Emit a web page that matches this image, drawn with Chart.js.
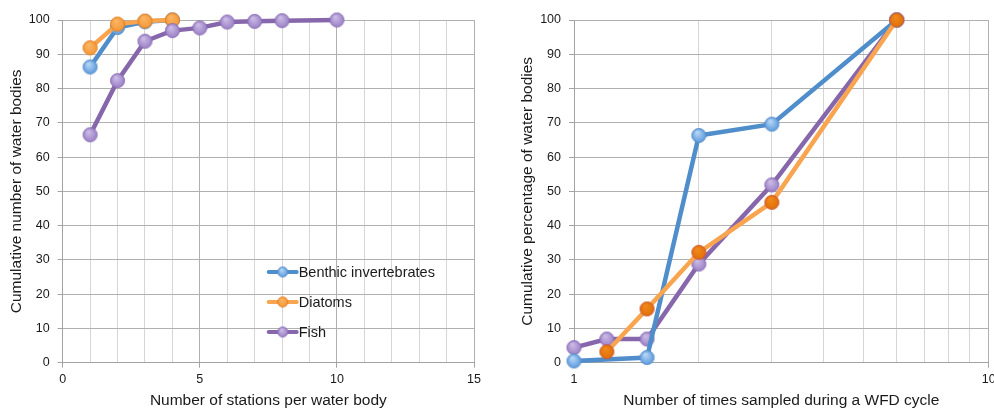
<!DOCTYPE html>
<html>
<head>
<meta charset="utf-8">
<script src="https://cdn.jsdelivr.net/npm/chart.js@4/dist/chart.umd.min.js"></script>
<style>
  html, body { margin: 0; padding: 0; background: #ffffff; }
  #wrap { position: relative; width: 994px; height: 410px; }
  .panel { position: absolute; top: 0; width: 497px; height: 410px; }
  #p1 { left: 0; }
  #p2 { left: 497px; }
</style>
</head>
<body>
<div id="wrap">
  <div class="panel" id="p1"><canvas id="c1" width="497" height="410"></canvas></div>
  <div class="panel" id="p2"><canvas id="c2" width="497" height="410"></canvas></div>
</div>
<script>
// Series labels
const seriesNames = ['Benthic invertebrates', 'Diatoms', 'Fish'];

// Panel 1: stations per water body vs cumulative number
const stationsBenthic = [1, 2, 3, 4];
const cumBenthic      = [86.3, 97.8, 99.5, 100];
const stationsDiatoms = [1, 2, 3, 4];
const cumDiatoms      = [91.9, 98.8, 99.7, 100];
const stationsFish    = [1, 2, 3, 4, 5, 6, 7, 8, 10];
const cumFish         = [66.5, 82.3, 93.8, 96.9, 97.7, 99.4, 99.6, 99.8, 100];

// Panel 2: times sampled during a WFD cycle vs cumulative percentage
const timesBenthic = [1, 1.5, 2, 3, 6];
const pctBenthic   = [0.5, 1.5, 66.3, 69.6, 100];
const timesDiatoms = [1.2, 1.5, 2, 3, 6];
const pctDiatoms   = [3.2, 15.7, 32.2, 46.8, 100];
const timesFish    = [1, 1.2, 1.5, 2, 3, 6];
const pctFish      = [4.4, 6.9, 6.9, 28.8, 51.9, 100];

// Axis ticks and titles
const leftXLabels  = [0, 5, 10, 15];
const rightXTicks  = [1, 2, 3, 4, 5, 6, 7, 8, 9, 10];
const rightXLabels = [1, 10];
const yLabelStep = 10;
const leftXTitle  = 'Number of stations per water body';
const leftYTitle  = 'Cumulative number of water bodies';
const rightXTitle = 'Number of times sampled during a WFD cycle';
const rightYTitle = 'Cumulative percentage of water bodies';

const FONT = "'Liberation Sans', Arial, Helvetica, sans-serif";
const TEXT = '#1a1a1a';
const GRID_MINOR = '#d6d6d6';
const GRID_MAJOR = '#b0b0b0';
const AXIS = '#a3a3a3';

const zip = (xs, ys) => xs.map((x, i) => ({ x: x, y: ys[i] }));

// Glossy round marker drawn onto a small canvas
function marker(r, light, dark, edge) {
  const s = Math.ceil(2 * r + 3);
  const c = document.createElement('canvas');
  c.width = s; c.height = s;
  const g = c.getContext('2d');
  const cx = s / 2, cy = s / 2;
  const grad = g.createRadialGradient(cx - r * 0.25, cy - r * 0.45, r * 0.1, cx, cy, r);
  grad.addColorStop(0, light);
  grad.addColorStop(1, dark);
  g.beginPath();
  g.arc(cx, cy, r, 0, Math.PI * 2);
  g.fillStyle = grad;
  g.fill();
  g.lineWidth = 1;
  g.strokeStyle = edge;
  g.stroke();
  return c;
}

const BLUE_LINE = '#4f8dcb';
const ORANGE_LINE = '#f9a54f';
const PURPLE_LINE = '#8767ab';

const mk = {
  blue:    (r) => marker(r, '#b6d7f7', '#5e9bdc', '#5a8fc9'),
  orangeL: (r) => marker(r, '#fbb565', '#f59a3a', '#e07b1c'),
  orangeD: (r) => marker(r, '#f08a1c', '#e26e08', '#c9573a'),
  purple:  (r) => marker(r, '#cbbbe6', '#9c82c6', '#8a6db5')
};

// Legend drawn inside the plot area of the first panel
const insideLegend = {
  id: 'insideLegend',
  afterDraw(chart, args, opts) {
    const ctx = chart.ctx;
    const area = chart.chartArea;
    const x0 = area.left + opts.dx;
    ctx.save();
    chart.data.datasets.forEach((ds, i) => {
      const y = area.top + opts.dy + i * opts.rowGap;
      ctx.strokeStyle = ds.borderColor;
      ctx.lineWidth = 4;
      ctx.lineCap = 'round';
      ctx.beginPath();
      ctx.moveTo(x0, y);
      ctx.lineTo(x0 + 28, y);
      ctx.stroke();
      const img = opts.markers[i];
      ctx.drawImage(img, x0 + 14 - img.width / 2, y - img.height / 2);
      ctx.fillStyle = TEXT;
      ctx.font = '14.5px ' + FONT;
      ctx.textBaseline = 'middle';
      ctx.textAlign = 'left';
      ctx.fillText(ds.label, x0 + 30, y + 1);
    });
    ctx.restore();
  }
};

function yScale(titleText, titlePad, width) {
  return {
    type: 'linear',
    min: 0, max: 100,
    afterFit: (s) => { s.width = width; },
    border: { color: AXIS, width: 1 },
    grid: {
      color: (c) => (c.tick && c.tick.value % yLabelStep === 0) ? GRID_MAJOR : GRID_MINOR,
      tickColor: AXIS,
      tickLength: 5,
      lineWidth: 1
    },
    ticks: {
      stepSize: 5,
      padding: 8,
      color: TEXT,
      font: { family: FONT, size: 12.5 },
      callback: (v) => (v % yLabelStep === 0 ? String(v) : '')
    },
    title: {
      display: true,
      text: titleText,
      color: TEXT,
      font: { family: FONT, size: 15.5 },
      padding: { top: titlePad, bottom: 0 }
    }
  };
}

function lineDataset(label, pts, line, img, order) {
  return {
    label: label,
    data: pts,
    borderColor: line,
    backgroundColor: line,
    borderWidth: 4.5,
    pointStyle: img,
    pointRadius: 7,
    pointHoverRadius: 7,
    tension: 0,
    clip: false,
    order: order
  };
}

// Panel 1
const leftMarkers = [mk.blue(7), mk.orangeL(7), mk.purple(7)];
new Chart(document.getElementById('c1'), {
  type: 'line',
  data: {
    datasets: [
      lineDataset(seriesNames[0], zip(stationsBenthic, cumBenthic), BLUE_LINE, leftMarkers[0], 2),
      lineDataset(seriesNames[1], zip(stationsDiatoms, cumDiatoms), ORANGE_LINE, leftMarkers[1], 1),
      lineDataset(seriesNames[2], zip(stationsFish, cumFish), PURPLE_LINE, leftMarkers[2], 0)
    ]
  },
  options: {
    responsive: false,
    animation: false,
    events: [],
    layout: { autoPadding: false, padding: { left: 0, right: 23, top: 20, bottom: 0 } },
    plugins: {
      legend: { display: false },
      tooltip: { enabled: false },
      insideLegend: {
        dx: 206, dy: 252, rowGap: 30,
        markers: [mk.blue(5), mk.orangeL(5), mk.purple(5)]
      }
    },
    scales: {
      x: {
        type: 'linear',
        min: 0, max: 15,
        afterFit: (s) => { s.height = 47.3; s.paddingLeft = 0; s.paddingRight = 0; },
        border: { color: AXIS, width: 1 },
        grid: {
          color: (c) => (c.tick && leftXLabels.includes(c.tick.value)) ? GRID_MAJOR : GRID_MINOR,
          tickColor: (c) => (c.tick && leftXLabels.includes(c.tick.value)) ? AXIS : 'rgba(0,0,0,0)',
          tickLength: 5,
          lineWidth: 1
        },
        ticks: {
          stepSize: 1,
          maxRotation: 0,
          autoSkip: false,
          padding: 4,
          color: TEXT,
          font: { family: FONT, size: 12.5 },
          callback: (v) => (leftXLabels.includes(v) ? String(v) : '')
        },
        title: {
          display: true,
          text: leftXTitle,
          color: TEXT,
          font: { family: FONT, size: 15.5 },
          padding: { top: 0, bottom: 0 }
        }
      },
      y: yScale(leftYTitle, 7, 62.7)
    }
  },
  plugins: [insideLegend]
});

// Panel 2
new Chart(document.getElementById('c2'), {
  type: 'line',
  data: {
    datasets: [
      lineDataset(seriesNames[0], zip(timesBenthic, pctBenthic), BLUE_LINE, mk.blue(7), 1),
      lineDataset(seriesNames[1], zip(timesDiatoms, pctDiatoms), ORANGE_LINE, mk.orangeD(7), 0),
      lineDataset(seriesNames[2], zip(timesFish, pctFish), PURPLE_LINE, mk.purple(7), 2)
    ]
  },
  options: {
    responsive: false,
    animation: false,
    events: [],
    layout: { autoPadding: false, padding: { left: 0, right: 5.3, top: 20, bottom: 0 } },
    plugins: {
      legend: { display: false },
      tooltip: { enabled: false }
    },
    scales: {
      x: {
        type: 'logarithmic',
        min: 1, max: 10,
        afterBuildTicks: (s) => { s.ticks = rightXTicks.map((v) => ({ value: v })); },
        afterFit: (s) => { s.height = 47.3; s.paddingLeft = 0; s.paddingRight = 0; },
        border: { color: AXIS, width: 1 },
        grid: {
          color: (c) => (c.tick && c.tick.value === 10) ? GRID_MAJOR : GRID_MINOR,
          tickColor: (c) => (c.tick && rightXLabels.includes(c.tick.value)) ? AXIS : 'rgba(0,0,0,0)',
          tickLength: 5,
          lineWidth: 1
        },
        ticks: {
          maxRotation: 0,
          autoSkip: false,
          padding: 4,
          color: TEXT,
          font: { family: FONT, size: 12.5 },
          callback: (v) => (rightXLabels.includes(v) ? String(v) : '')
        },
        title: {
          display: true,
          text: rightXTitle,
          color: TEXT,
          font: { family: FONT, size: 15.5 },
          padding: { top: 0, bottom: 0 }
        }
      },
      y: yScale(rightYTitle, 21, 77)
    }
  }
});
</script>
</body>
</html>
